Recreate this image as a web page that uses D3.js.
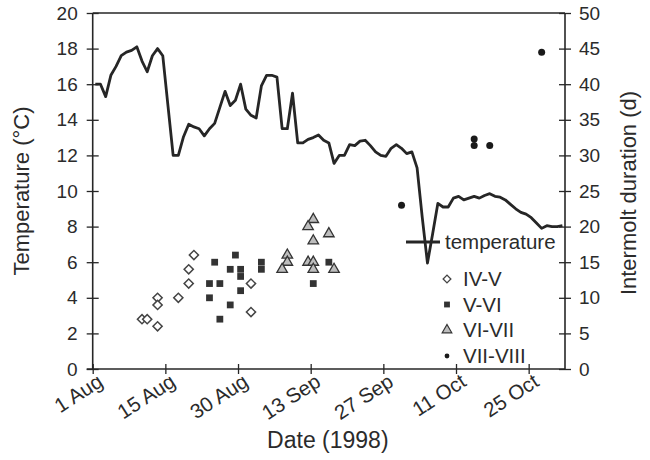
<!DOCTYPE html>
<html>
<head>
<meta charset="utf-8">
<script src="https://cdn.jsdelivr.net/npm/d3@7"></script>
<style>
  body { margin: 0; background: #fff; }
  text { font-family: "Liberation Sans", Arial, Helvetica, sans-serif; fill: #2b2b2b; }
</style>
</head>
<body>
<svg width="650" height="460"></svg>
<script>
// daily mean temperature, 1 Aug .. 30 Oct 1998 (index = days after 1 Aug)
const temperature = [16.0,16.0,15.3,16.5,17.0,17.6,17.8,17.9,18.1,17.3,16.7,17.6,18.0,17.6,14.8,12.0,12.0,13.05,13.75,13.6,
  13.5,13.1,13.5,13.8,14.7,15.6,14.8,15.1,16.0,14.6,14.25,14.1,15.9,16.5,16.5,16.4,13.5,13.5,15.5,12.7,
  12.7,12.9,13.0,13.15,12.85,12.7,11.55,12.0,12.0,12.6,12.55,12.8,12.85,12.55,12.2,12.0,11.95,12.4,12.6,12.4,
  12.1,12.2,11.3,8.5,5.95,7.6,9.3,9.1,9.1,9.6,9.7,9.5,9.6,9.7,9.6,9.75,9.85,9.7,9.65,9.5,
  9.25,9.0,8.8,8.7,8.5,8.2,7.9,8.05,8.0,8.0,8.05];

// intermolt durations (d) by stage, with day of moult (days after 1 Aug)
const ivDays = [19,18,18,12,12,16,9,10,12,30,30];
const ivDur  = [16,14,12,10,9,10,7,7,6,12,8];
const vDays  = [23,27,26,28,28,32,32,22,24,28,22,26,24,45,42];
const vDur   = [15,16,14,14,13,15,14,12,12,11,10,9,7,15,12];
const viDays = [42,41,45,42,37,37,36,41,42,42,46];
const viDur  = [21,20,19,18,16,15,14,15,15,14,14];
const viiDays = [59,73,73,76,86];
const viiDur  = [23,32.3,31.4,31.4,44.5];

const stageNames = ['IV-V','V-VI','VI-VII','VII-VIII'];
const tickDays = [0,14,28,42,56,70,84];
const tickLabels = ['1 Aug','15 Aug','30 Aug','13 Sep','27 Sep','11 Oct','25 Oct'];
const tempTicks = [0,2,4,6,8,10,12,14,16,18,20];
const durTicks = [0,5,10,15,20,25,30,35,40,45,50];

const mLeft = 92.7, mRight = 565, mTop = 13, mBottom = 369;
const ink = '#262626';

const svg = d3.select('svg');

const x = d3.scaleLinear().domain([0, 91]).range([mLeft, mRight]);
const yT = d3.scaleLinear().domain([0, 20]).range([mBottom, mTop]);
const yD = d3.scaleLinear().domain([0, 50]).range([mBottom, mTop]);

// frame top
svg.append('line')
  .attr('x1', mLeft).attr('x2', mRight)
  .attr('y1', yT(20)).attr('y2', yT(20))
  .attr('stroke', ink).attr('stroke-width', 1.6);

// axes
const gLeft = svg.append('g')
  .attr('transform', `translate(${mLeft},0)`)
  .call(d3.axisLeft(yT).tickValues(tempTicks).tickSize(6).tickPadding(9));
const gRight = svg.append('g')
  .attr('transform', `translate(${mRight},0)`)
  .call(d3.axisRight(yD).tickValues(durTicks).tickSize(6).tickPadding(8));
const gBottom = svg.append('g')
  .attr('transform', `translate(0,${mBottom})`)
  .call(d3.axisBottom(x).tickValues(tickDays).tickFormat((d, i) => tickLabels[i]).tickSize(5));

[gLeft, gRight, gBottom].forEach(g => {
  g.select('.domain').attr('stroke', ink).attr('stroke-width', 1.6);
  g.selectAll('.tick line').attr('stroke', ink).attr('stroke-width', 1.3);
  g.selectAll('text').style('font-size', '19px').attr('fill', ink);
});
gLeft.selectAll('.tick line').attr('x1', 6).attr('x2', -6);
gRight.selectAll('.tick line').attr('x1', -6).attr('x2', 6);
gBottom.selectAll('.tick line').attr('y1', -5).attr('y2', 5);
gLeft.select('.domain').attr('d', `M0,${yT(20)}V${mBottom}`);
gRight.select('.domain').attr('d', `M0,${yD(50)}V${mBottom}`);
gBottom.select('.domain').attr('d', `M${mLeft - 6},0H${mRight}`);

gBottom.selectAll('text')
  .style('font-size', '20.5px')
  .attr('text-anchor', 'end')
  .attr('dy', null)
  .attr('transform', 'translate(11,16) rotate(-33)')
  .attr('y', 0).attr('x', 0);

// axis titles
svg.append('text')
  .attr('transform', `translate(29,${(mTop + mBottom) / 2}) rotate(-90)`)
  .attr('text-anchor', 'middle')
  .style('font-size', '22px')
  .text('Temperature (°C)');
svg.append('text')
  .attr('transform', `translate(636,${(mTop + mBottom) / 2 + 2}) rotate(-90)`)
  .attr('text-anchor', 'middle')
  .style('font-size', '22px')
  .text('Intermolt duration (d)');
svg.append('text')
  .attr('x', (mLeft + mRight) / 2 - 1).attr('y', 448)
  .attr('text-anchor', 'middle')
  .style('font-size', '23px')
  .text('Date (1998)');

// temperature line
const line = d3.line()
  .x((d, i) => x(i + 0.5))
  .y(d => yT(d));
svg.append('path')
  .datum(temperature)
  .attr('d', line)
  .attr('fill', 'none')
  .attr('stroke', ink)
  .attr('stroke-width', 2.8)
  .attr('stroke-linejoin', 'round');

// scatter symbols
const diamond = d3.symbol(d3.symbolSquare, 42)();
const square = d3.symbol(d3.symbolSquare, 46)();
const triangle = d3.symbol(d3.symbolTriangle, 48)();

function points(days, durs) {
  return days.map((d, i) => ({ day: d + 0.5, dur: durs[i] }));
}

svg.append('g').selectAll('path')
  .data(points(vDays, vDur))
  .join('path')
  .attr('d', square)
  .attr('transform', d => `translate(${x(d.day)},${yD(d.dur)})`)
  .attr('fill', '#333');

svg.append('g').selectAll('path')
  .data(points(ivDays, ivDur))
  .join('path')
  .attr('d', diamond)
  .attr('transform', d => `translate(${x(d.day)},${yD(d.dur)}) rotate(45)`)
  .attr('fill', '#fff').attr('stroke', '#444').attr('stroke-width', 1.5);

svg.append('g').selectAll('path')
  .data(points(viDays, viDur))
  .join('path')
  .attr('d', triangle)
  .attr('transform', d => `translate(${x(d.day)},${yD(d.dur)})`)
  .attr('fill', '#bdbdbd').attr('stroke', '#333').attr('stroke-width', 1.3);

svg.append('g').selectAll('circle')
  .data(points(viiDays, viiDur))
  .join('circle')
  .attr('cx', d => x(d.day)).attr('cy', d => yD(d.dur))
  .attr('r', 3.5)
  .attr('fill', '#1a1a1a');

// legend
const lg = svg.append('g').attr('transform', 'translate(406,242)');
lg.append('line').attr('x1', 0).attr('x2', 34).attr('y1', 0).attr('y2', 0)
  .attr('stroke', ink).attr('stroke-width', 2.8);
lg.append('text').attr('x', 39).attr('y', 0).attr('dy', '0.35em')
  .style('font-size', '20.5px').text('temperature');

const rowY = [37, 62.5, 88, 114];
const rows = lg.selectAll('g.row')
  .data(stageNames)
  .join('g')
  .attr('class', 'row')
  .attr('transform', (d, i) => `translate(41,${rowY[i]})`);
rows.append('text').attr('x', 16).attr('dy', '0.35em')
  .style('font-size', '20.5px').text(d => d);
rows.filter((d, i) => i === 0).append('path')
  .attr('d', d3.symbol(d3.symbolSquare, 30)()).attr('transform', 'rotate(45)')
  .attr('fill', '#fff').attr('stroke', '#444').attr('stroke-width', 1.3);
rows.filter((d, i) => i === 1).append('path')
  .attr('d', d3.symbol(d3.symbolSquare, 34)()).attr('fill', '#333');
rows.filter((d, i) => i === 2).append('path')
  .attr('d', d3.symbol(d3.symbolTriangle, 40)())
  .attr('fill', '#bdbdbd').attr('stroke', '#333').attr('stroke-width', 1.2);
rows.filter((d, i) => i === 3).append('circle')
  .attr('r', 2.4).attr('fill', '#1a1a1a');
</script>
</body>
</html>
